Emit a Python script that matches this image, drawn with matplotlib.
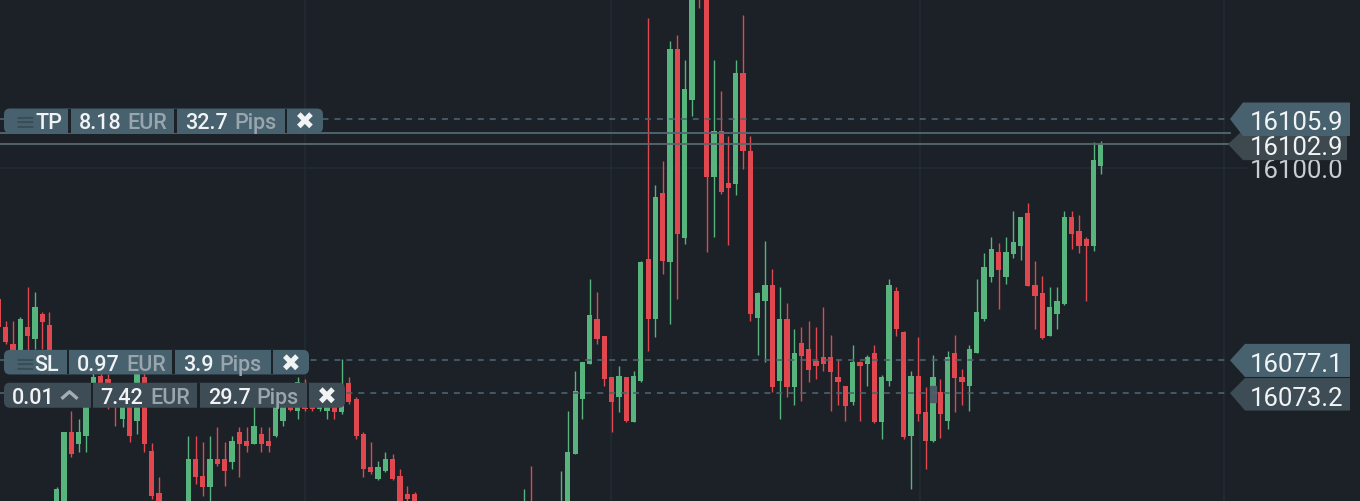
import numpy as np
import matplotlib.pyplot as plt
from matplotlib.patches import FancyBboxPatch, Polygon, Rectangle
from matplotlib.transforms import IdentityTransform, blended_transform_factory

plt.rcParams['font.family'] = ['Roboto', 'DejaVu Sans']
plt.rcParams['lines.scale_dashes'] = False

# bar index (the first one is cut by the left border)
idx = np.arange(-1, 151)

opens = [
    16084.4,                                                                  # -1
    16081.1, 16079.0, 16078.1, 16081.1, 16079.6, 16082.6, 16081.3, 16057.0, 16058.2, 16068.5,  # 0-9
    16067.1, 16068.1, 16072.7, 16075.2, 16074.9, 16073.1, 16070.1, 16072.5, 16069.9, 16075.1,  # 10-19
    16066.3, 16061.3, 16059.6, 16057.6, 16058.8, 16059.4, 16065.3, 16063.3, 16062.0, 16065.3,  # 20-29
    16065.3, 16065.0, 16068.5, 16067.5, 16067.1, 16068.3, 16067.5, 16068.1, 16069.9, 16073.7,  # 30-39
    16071.1, 16074.3, 16072.7, 16071.3, 16071.1, 16072.5, 16070.9, 16074.4, 16072.5, 16068.3,  # 40-49
    16064.4, 16062.9, 16063.9, 16065.3, 16063.3, 16061.2, 16061.2, 16058.8, 16057.4, 16055.8,  # 50-59
    16056.6, 16054.2, 16052.5, 16053.9, 16051.3, 16053.1, 16054.9, 16053.6, 16055.8, 16056.9,  # 60-69
    16055.7, 16058.2, 16059.9, 16058.8, 16059.2, 16057.9, 16057.0, 16059.4, 16065.9, 16072.5,  # 70-79
    16076.7, 16082.0, 16080.0, 16075.1, 16072.7, 16075.1, 16069.7, 16074.6, 16089.2, 16082.0,  # 80-89
    16097.1, 16088.8, 16114.2, 16091.7, 16108.2, 16123.8, 16120.8, 16099.0, 16104.5, 16098.3,  # 90-99
    16098.1, 16111.4, 16102.1, 16082.1, 16084.2, 16086.1, 16074.6, 16082.0, 16073.9, 16079.2,  # 100-109
    16078.4, 16077.0, 16077.5, 16077.5, 16075.1, 16074.0, 16072.1, 16076.9, 16076.7, 16078.0,  # 110-119
    16069.7, 16074.6, 16085.4, 16080.5, 16068.1, 16075.2, 16070.9, 16067.5, 16073.3, 16069.9,  # 120-129
    16078.0, 16075.1, 16074.0, 16078.0, 16082.0, 16087.0, 16090.0, 16087.0, 16089.8, 16090.7,  # 130-139
    16094.7, 16086.1, 16085.1, 16080.0, 16082.6, 16083.8, 16094.2, 16092.5, 16091.6, 16090.7,  # 140-149
    16100.3,                                                                  # 150
]
highs = [
    16086.0,
    16081.8, 16081.8, 16082.3, 16085.8, 16085.2, 16082.9, 16082.9, 16062.0, 16068.5, 16071.1,
    16070.1, 16073.4, 16075.8, 16076.1, 16075.5, 16074.3, 16073.4, 16073.7, 16075.8, 16075.8,
    16067.2, 16063.2, 16060.0, 16059.8, 16059.9, 16068.1, 16068.1, 16067.4, 16068.1, 16069.1,
    16067.4, 16068.1, 16069.1, 16069.1, 16071.9, 16069.1, 16069.1, 16073.4, 16074.3, 16074.3,
    16075.1, 16074.9, 16073.4, 16073.1, 16073.4, 16073.4, 16077.3, 16075.1, 16072.7, 16068.5,
    16067.4, 16065.1, 16066.2, 16065.9, 16064.1, 16062.1, 16061.4, 16059.5, 16058.0, 16057.1,
    16057.0, 16055.0, 16054.3, 16054.5, 16053.6, 16055.4, 16055.2, 16056.3, 16057.4, 16057.2,
    16058.1, 16061.7, 16064.5, 16059.6, 16059.8, 16059.9, 16063.9, 16071.1, 16075.8, 16076.9,
    16086.8, 16085.2, 16080.0, 16075.1, 16076.4, 16075.1, 16075.8, 16089.0, 16118.0, 16098.0,
    16100.9, 16115.2, 16115.9, 16113.0, 16123.2, 16125.0, 16121.4, 16113.0, 16109.2, 16103.9,
    16113.0, 16118.3, 16103.9, 16085.3, 16091.3, 16088.0, 16085.8, 16083.9, 16080.8, 16081.1,
    16081.8, 16081.1, 16083.5, 16080.1, 16077.3, 16074.1, 16078.9, 16077.0, 16077.7, 16078.9,
    16075.3, 16086.8, 16085.8, 16080.6, 16075.8, 16079.9, 16073.9, 16077.7, 16074.9, 16078.2,
    16080.1, 16076.1, 16078.9, 16086.8, 16089.9, 16091.8, 16091.1, 16091.8, 16094.9, 16094.2,
    16095.9, 16088.9, 16087.2, 16085.8, 16085.8, 16094.9, 16094.9, 16094.4, 16091.8, 16103.1,
    16103.3,
]
lows = [
    16079.3,
    16079.0, 16077.3, 16076.7, 16078.1, 16078.4, 16078.4, 16075.5, 16055.8, 16057.0, 16065.6,
    16066.2, 16066.2, 16072.2, 16071.9, 16071.3, 16069.3, 16069.1, 16067.4, 16068.3, 16066.2,
    16060.6, 16058.8, 16057.6, 16057.0, 16058.2, 16058.8, 16062.3, 16060.9, 16060.0, 16064.5,
    16062.1, 16064.1, 16063.2, 16066.2, 16067.1, 16066.2, 16066.2, 16067.9, 16069.3, 16071.1,
    16070.1, 16071.1, 16071.1, 16071.1, 16070.1, 16070.1, 16070.7, 16071.9, 16067.7, 16063.2,
    16063.5, 16062.8, 16063.8, 16062.8, 16058.8, 16060.0, 16058.2, 16056.9, 16055.2, 16054.6,
    16053.8, 16051.9, 16051.7, 16050.8, 16050.2, 16052.6, 16053.0, 16053.1, 16055.0, 16055.3,
    16055.2, 16057.6, 16057.0, 16057.5, 16057.3, 16057.4, 16056.4, 16058.8, 16065.9, 16070.1,
    16076.7, 16079.0, 16074.0, 16068.5, 16070.9, 16069.7, 16069.7, 16074.5, 16078.2, 16079.9,
    16087.4, 16081.4, 16084.4, 16091.0, 16106.2, 16119.1, 16090.0, 16091.8, 16097.0, 16090.9,
    16096.8, 16099.9, 16081.8, 16077.7, 16076.9, 16073.3, 16070.1, 16072.7, 16071.8, 16072.2,
    16074.5, 16074.9, 16075.8, 16071.1, 16071.8, 16069.9, 16071.8, 16069.9, 16074.0, 16069.6,
    16067.7, 16074.0, 16080.0, 16067.7, 16061.7, 16069.9, 16064.1, 16067.4, 16067.8, 16068.9,
    16070.9, 16071.8, 16071.1, 16078.0, 16081.8, 16086.4, 16083.2, 16086.2, 16089.3, 16089.1,
    16086.0, 16080.8, 16079.6, 16080.0, 16080.8, 16083.7, 16090.4, 16089.9, 16084.2, 16090.1,
    16099.3,
]
closes = [
    16081.1,
    16079.3, 16078.2, 16082.0, 16080.0, 16083.5, 16081.7, 16076.7, 16061.7, 16068.5, 16065.9,
    16068.5, 16072.5, 16075.1, 16073.1, 16072.5, 16071.9, 16072.5, 16068.1, 16075.5, 16067.1,
    16060.9, 16059.4, 16058.2, 16059.1, 16059.7, 16065.3, 16063.2, 16062.0, 16065.3, 16064.7,
    16063.9, 16067.5, 16067.1, 16066.9, 16069.3, 16067.1, 16066.9, 16072.5, 16073.1, 16071.2,
    16074.5, 16071.3, 16071.3, 16072.5, 16072.7, 16070.9, 16074.0, 16072.1, 16068.1, 16064.1,
    16063.8, 16064.4, 16065.3, 16062.9, 16059.4, 16060.6, 16058.8, 16057.4, 16055.8, 16056.6,
    16054.2, 16052.5, 16053.9, 16051.3, 16053.1, 16054.9, 16053.6, 16055.8, 16056.9, 16055.7,
    16057.6, 16059.8, 16058.8, 16059.2, 16057.9, 16059.4, 16059.8, 16066.2, 16073.4, 16076.9,
    16082.5, 16079.6, 16074.9, 16072.1, 16075.2, 16069.9, 16075.2, 16088.8, 16082.0, 16096.6,
    16088.9, 16114.2, 16092.2, 16109.5, 16122.0, 16120.8, 16099.0, 16104.5, 16097.2, 16097.7,
    16111.4, 16102.1, 16082.6, 16085.1, 16086.1, 16073.9, 16082.0, 16073.9, 16078.0, 16077.6,
    16075.9, 16076.4, 16076.7, 16075.7, 16074.5, 16071.6, 16076.9, 16076.4, 16077.5, 16069.7,
    16075.1, 16086.1, 16080.8, 16067.9, 16075.2, 16070.7, 16067.5, 16075.1, 16070.7, 16077.5,
    16075.0, 16074.5, 16078.4, 16082.9, 16088.2, 16090.4, 16087.9, 16090.0, 16091.2, 16094.2,
    16086.0, 16084.8, 16079.8, 16083.5, 16084.2, 16094.2, 16092.2, 16090.7, 16090.7, 16101.0,
    16102.9,
]

tp_price = 16105.9
ask_price = 16104.2
bid_price = 16102.9
sl_price = 16077.1
entry_price = 16073.2
grid_price = 16100.0
entry_bar = 127
grid_x = [41.0, 82.9, 125.2, 166.9]

tp_eur, tp_pips = "8.18", "32.7"
sl_eur, sl_pips = "0.97", "3.9"
lot, entry_eur, entry_pips = "0.01", "7.42", "29.7"

W, H = 1360, 502
BG = '#1b2127'
GRID = '#242c33'
UP = '#56b47c'
DOWN = '#e0474e'
TAG = '#47616e'
TAG_DARK = '#3e4c55'
WHITE = '#f1f3f4'
GREY = '#9aa6ad'

fig = plt.figure(figsize=(W / 100, H / 100), dpi=100, facecolor=BG)
ax = fig.add_axes([0, 0, 1, 1])
ax.set_facecolor(BG)
ax.set_xlim(-0.78, 185.5)
ax.set_ylim(16060.32, 16120.22)
ax.axis('off')

px = IdentityTransform()
xy_px = blended_transform_factory(px, ax.transData)


def img_y(price):
    return H - ax.transData.transform((0, price))[1]


# grid
for gx in grid_x:
    ax.axvline(gx, color=GRID, lw=1.1, zorder=0.5)
ax.plot([0, 1247], [grid_price, grid_price], color=GRID, lw=1.1, transform=xy_px, zorder=0.5)

# candles
o, h, l, c = map(np.array, (opens, highs, lows, closes))
col = np.where(c >= o, UP, DOWN)
ax.vlines(idx, l, h, colors=col, linewidth=1.0, zorder=2)
ax.bar(idx, np.maximum(np.abs(c - o), 0.2), bottom=np.minimum(o, c), width=0.72,
       color=col, linewidth=0, zorder=2)
ax.add_patch(Rectangle((entry_bar - 0.36, 16072.1), 0.72, 1.9, color='#4d5b64', zorder=2.5))

# order lines
for p in (tp_price, sl_price, entry_price):
    ax.plot([0, 1230], [p, p], color='#4c6370', lw=1.2, ls=(0, (4.3, 4.3)),
            transform=xy_px, zorder=3)
ax.plot([0, 1230], [ask_price, ask_price], color='#526874', lw=1.3, transform=xy_px, zorder=3)
ax.plot([0, 1230], [bid_price, bid_price], color='#5b676e', lw=1.3, transform=xy_px, zorder=3)


def box(x0, x1, y0, y1, color, z=4, r=6):
    ax.add_patch(FancyBboxPatch((x0, H - y1), x1 - x0, y1 - y0,
                                boxstyle=f"round,pad=0,rounding_size={r}",
                                fc=color, ec='none', transform=px, zorder=z))


def sep(x0, x1, y0, y1):
    ax.add_patch(Rectangle((x0, H - y1), x1 - x0, y1 - y0, fc=BG, ec='none',
                           transform=px, zorder=4.2))


def txt(x, y, s, color=WHITE, size=15.5, ha='left', weight='medium', z=5):
    ax.text(x, H - y, s, color=color, fontsize=size, ha=ha, va='baseline',
            fontweight=weight, transform=px, zorder=z)


# TP label
yc = img_y(tp_price) + 1.8
y0, y1, base = yc - 12.3, yc + 12.3, yc + 7.6
box(4, 323, y0, y1, TAG)
for a, b in ((68.3, 70.8), (174, 176.7), (285, 287.3)):
    sep(a, b, y0, y1)
txt(14, base + 1, "≡", color='#3a4c56', size=18, weight='normal')
txt(35, base, "TP")
txt(79, base, tp_eur)
txt(127, base, "EUR", color=GREY)
txt(185, base, tp_pips)
txt(234, base, "Pips", color=GREY)
txt(305, base + 0.5, "✖", ha='center', size=17, weight='bold')

# SL label
yc = img_y(sl_price) + 1.8
y0, y1, base = yc - 12.3, yc + 12.3, yc + 7.6
box(4, 309, y0, y1, TAG)
for a, b in ((66.7, 69), (172.3, 175), (270.7, 273.3)):
    sep(a, b, y0, y1)
txt(14, base + 1, "≡", color='#3a4c56', size=18, weight='normal')
txt(34, base, "SL")
txt(77, base, sl_eur)
txt(126, base, "EUR", color=GREY)
txt(183, base, sl_pips)
txt(219, base, "Pips", color=GREY)
txt(290.5, base + 0.5, "✖", ha='center', size=17, weight='bold')

# position label
yc = img_y(entry_price) + 2.2
y0, y1, base = yc - 12.5, yc + 12.5, yc + 7.6
box(4, 345, y0, y1, TAG_DARK)
for a, b in ((90.7, 93.3), (196.7, 200), (306.7, 309.3)):
    sep(a, b, y0, y1)
txt(12, base, lot)
ax.plot([61.5, 69.5, 77.5], [H - (yc + 3.5), H - (yc - 3.5), H - (yc + 3.5)],
        color='#a3adb3', lw=2.4, solid_capstyle='butt', transform=px, zorder=5)
txt(100.5, base, entry_eur)
txt(150, base, "EUR", color=GREY)
txt(208, base, entry_pips)
txt(256.5, base, "Pips", color=GREY)
txt(326.7, base + 0.5, "✖", ha='center', size=17, weight='bold')


# price tags on the right
def tag(tip_x, tip_y, left, right, top, bot, color, z):
    pts = [(tip_x, H - tip_y), (left, H - top), (right, H - top), (right, H - bot), (left, H - bot)]
    ax.add_patch(Polygon(pts, closed=True, fc=color, ec='none', transform=px, zorder=z))


txt(1297, img_y(grid_price) + 8.5, f"{grid_price:.1f}", color='#c8cdd1', size=18.5,
    ha='center', weight='normal', z=6)

ty = img_y(bid_price)
tag(1228, ty, 1243, 1347, ty - 14, ty + 16, '#3d484f', 7)
txt(1297, ty + 10, f"{bid_price:.1f}", size=18.5, ha='center', weight='normal', z=7.5)

ty = img_y(tp_price)
tag(1230, ty, 1243, 1350, ty - 16.5, ty + 17, TAG, 8)
txt(1297, ty + 10, f"{tp_price:.1f}", size=18.5, ha='center', weight='normal', z=8.5)

ty = img_y(sl_price)
tag(1230, ty, 1245, 1350, ty - 16.5, ty + 16.6, TAG, 8)
txt(1297, ty + 11, f"{sl_price:.1f}", size=18.5, ha='center', weight='normal', z=8.5)

ty = img_y(entry_price)
tag(1230, ty, 1245, 1350, ty - 15, ty + 17.5, TAG_DARK, 8)
txt(1297, ty + 12, f"{entry_price:.1f}", size=18.5, ha='center', weight='normal', z=8.5)

fig.savefig('out.png', dpi=100, facecolor=BG)
